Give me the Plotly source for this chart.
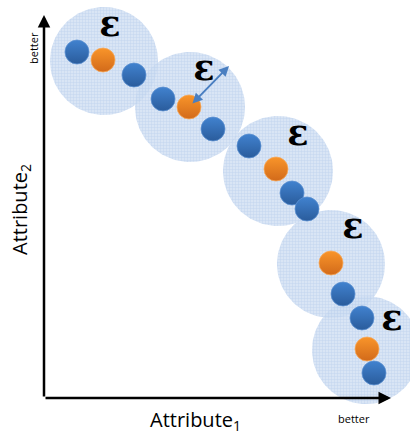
import numpy as np
import plotly.graph_objects as go

# epsilon-neighbourhoods (centre x, centre y, radius) in attribute units
circle_x = [60, 146, 234, 287, 322]
circle_y = [337, 291, 227, 134, 48]
circle_r = [54, 55, 55, 54, 54]

# solutions
blue_x = [33, 90, 119, 169, 205, 248, 263, 299, 318, 330]
blue_y = [346, 323, 299, 269, 252, 205, 189, 104, 80, 25]
orange_x = [59, 145, 232, 287, 323]
orange_y = [338, 291, 229, 135, 49]

# epsilon labels
eps_x = [66, 160, 254, 309, 348]
eps_y = [371, 327, 262, 169, 77]
eps_text = ["<b>ε</b>"] * 5

# epsilon arrow (from centre solution to circle edge)
arrow_from = (147, 293)
arrow_to = (185, 332)

# axes extents
x_axis_end = 347
y_axis_end = 383

fig = go.Figure()

t = np.linspace(0, 2 * np.pi, 120)
for cx, cy, r in zip(circle_x, circle_y, circle_r):
    fig.add_trace(go.Scatter(
        x=cx + r * np.cos(t), y=cy + r * np.sin(t),
        mode="lines", fill="toself", line=dict(width=0, color="rgba(0,0,0,0)"),
        fillcolor="rgba(190,210,236,0.8)",
        fillpattern=dict(shape="+", size=3, solidity=0.3,
                         fgcolor="rgba(165,192,230,0.9)",
                         bgcolor="rgba(208,223,242,0.8)",
                         fillmode="overlay"),
        hoverinfo="skip", showlegend=False))

fig.add_trace(go.Scatter(
    x=blue_x, y=blue_y, mode="markers",
    marker=dict(size=24, color="#4182cf",
                gradient=dict(type="vertical", color="#2a5c9c"),
                line=dict(width=0.8, color="#5b8fd0")),
    hoverinfo="skip", showlegend=False))
fig.add_trace(go.Scatter(
    x=orange_x, y=orange_y, mode="markers",
    marker=dict(size=24, color="#f9952a",
                gradient=dict(type="vertical", color="#d26a1a"),
                line=dict(width=0.8, color="#f6a85a")),
    hoverinfo="skip", showlegend=False))

fig.add_trace(go.Scatter(
    x=eps_x, y=eps_y, mode="text", text=eps_text,
    textfont=dict(size=35, color="black", family="DejaVu Serif"),
    hoverinfo="skip", showlegend=False))

annotations = [
    # x axis arrow
    dict(x=x_axis_end, y=0, ax=0, ay=0, xref="x", yref="y", axref="x", ayref="y",
         showarrow=True, arrowhead=2, arrowsize=1, arrowwidth=2.5, arrowcolor="black", text=""),
    # y axis arrow
    dict(x=0, y=y_axis_end, ax=0, ay=0, xref="x", yref="y", axref="x", ayref="y",
         showarrow=True, arrowhead=2, arrowsize=1, arrowwidth=2.5, arrowcolor="black", text=""),
    # epsilon double arrow
    dict(x=arrow_to[0], y=arrow_to[1], ax=arrow_from[0], ay=arrow_from[1],
         xref="x", yref="y", axref="x", ayref="y",
         showarrow=True, arrowhead=2, startarrowhead=2, arrowside="end+start",
         arrowsize=1, arrowwidth=2, arrowcolor="#4a7fc1", text=""),
    dict(x=151, y=-22, xref="x", yref="y", text="Attribute<sub>1</sub>", showarrow=False,
         font=dict(size=20, family="Open Sans", color="black")),
    dict(x=-24, y=188, xref="x", yref="y", text="Attribute<sub>2</sub>", showarrow=False,
         textangle=-90, font=dict(size=20, family="Open Sans", color="black")),
    dict(x=310, y=-20, xref="x", yref="y", text="better", showarrow=False,
         font=dict(size=11, family="Open Sans", color="black")),
    dict(x=-11, y=350, xref="x", yref="y", text="better", showarrow=False,
         textangle=-90, font=dict(size=11, family="Open Sans", color="black")),
]

fig.update_layout(
    width=410, height=437, autosize=False,
    margin=dict(l=0, r=0, t=0, b=0),
    paper_bgcolor="white", plot_bgcolor="white",
    xaxis=dict(range=[-44, 366], visible=False, fixedrange=True),
    yaxis=dict(range=[-39, 398], visible=False, fixedrange=True),
    annotations=annotations,
    showlegend=False,
)

fig.write_html("out.html", config={"displayModeBar": False},
               post_script="document.body.style.margin='0';")
